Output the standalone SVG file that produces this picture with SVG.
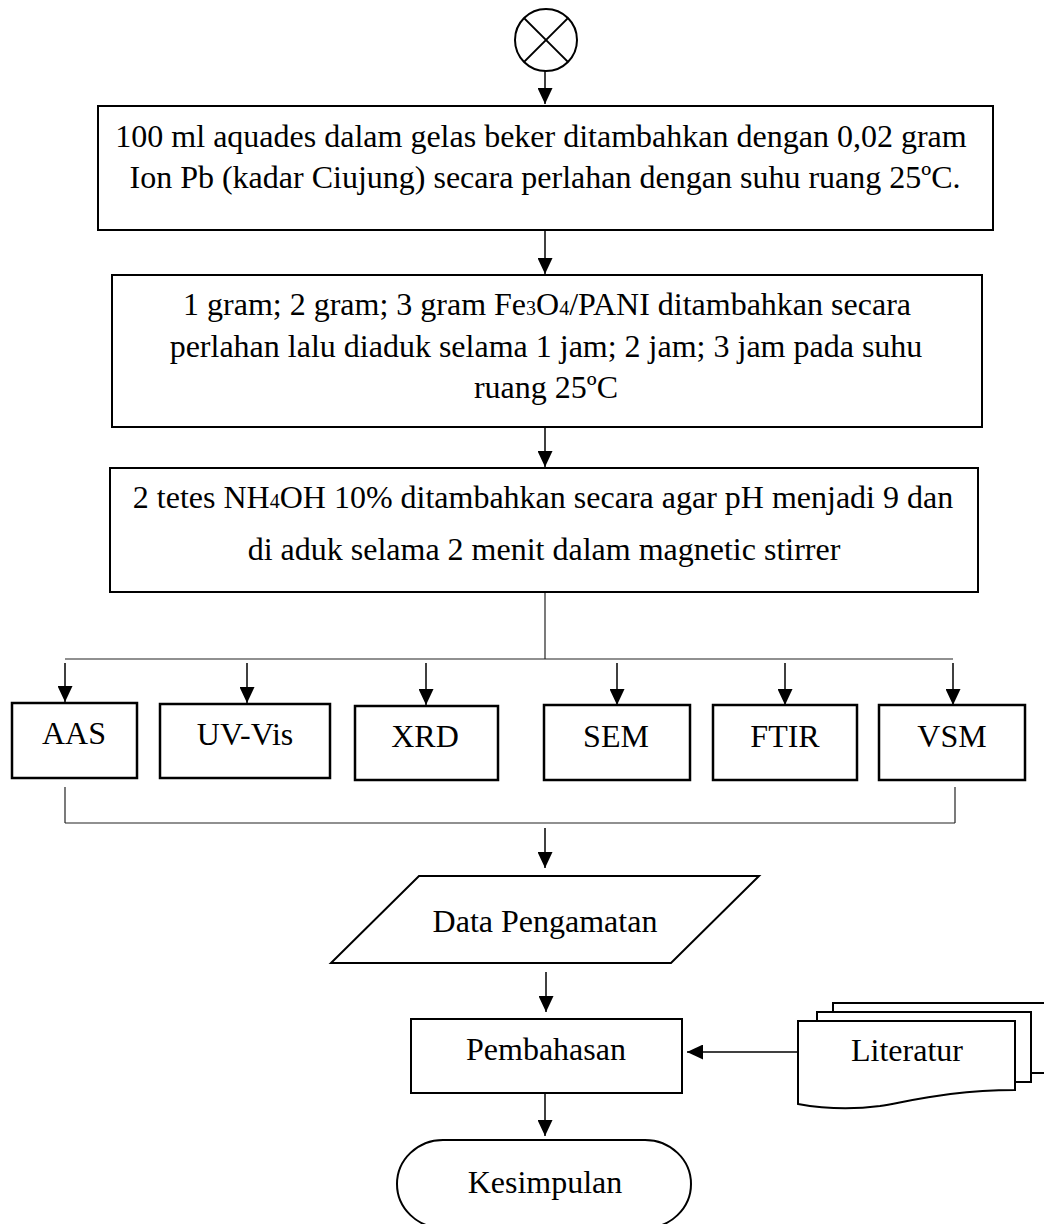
<svg xmlns="http://www.w3.org/2000/svg" width="1044" height="1224" viewBox="0 0 1044 1224">
<style>
  .box { fill: #fff; stroke: #000; stroke-width: 2; }
  .abox { fill: #fff; stroke: #000; stroke-width: 2.5; }
  .t { font-family: "Liberation Serif", "Times New Roman", serif; font-size: 32px; fill: #000; text-anchor: middle; }
  .sub { font-size: 20px; }
  .arrow { stroke: #000; stroke-width: 1.5; fill: none; marker-end: url(#ah); }
  .thin { stroke: #222; stroke-width: 1.2; fill: none; }
</style>
<defs>
  <marker id="ah" viewBox="0 0 16 15" refX="16" refY="7.5" markerWidth="16" markerHeight="15" markerUnits="userSpaceOnUse" orient="auto">
    <path d="M0,0 L16,7.5 L0,15 Z" fill="#000"/>
  </marker>
</defs>
<rect width="1044" height="1224" fill="#fff"/>

<g id="connectors">
  <line class="arrow" x1="545" y1="71" x2="545" y2="104"/>
  <line class="arrow" x1="545" y1="231" x2="545" y2="274"/>
  <line class="arrow" x1="545" y1="428" x2="545" y2="467"/>
  <line class="thin" x1="545" y1="592" x2="545" y2="659"/>
  <line class="thin" x1="65" y1="659" x2="953" y2="659"/>
  <line class="arrow" x1="65" y1="663" x2="65" y2="702"/>
  <line class="arrow" x1="247" y1="663" x2="247" y2="703"/>
  <line class="arrow" x1="426" y1="663" x2="426" y2="705"/>
  <line class="arrow" x1="617" y1="663" x2="617" y2="705"/>
  <line class="arrow" x1="785" y1="663" x2="785" y2="705"/>
  <line class="arrow" x1="953" y1="663" x2="953" y2="705"/>
  <line class="thin" x1="65" y1="787" x2="65" y2="823"/>
  <line class="thin" x1="955" y1="787" x2="955" y2="823"/>
  <line class="thin" x1="65" y1="823" x2="955" y2="823"/>
  <line class="arrow" x1="545" y1="828" x2="545" y2="868"/>
  <line class="arrow" x1="546" y1="972" x2="546" y2="1012"/>
  <line class="arrow" x1="545" y1="1094" x2="545" y2="1136"/>
  <line class="arrow" x1="797" y1="1052" x2="687" y2="1052"/>
</g>

<g id="start">
  <circle cx="546" cy="40" r="31" fill="#fff" stroke="#000" stroke-width="2"/>
  <line x1="524.1" y1="18.1" x2="567.9" y2="61.9" stroke="#000" stroke-width="2"/>
  <line x1="567.9" y1="18.1" x2="524.1" y2="61.9" stroke="#000" stroke-width="2"/>
</g>

<g id="step1">
  <rect class="box" x="98" y="106" width="895" height="124"/>
  <text class="t" x="541" y="147">100 ml aquades dalam gelas beker ditambahkan dengan 0,02 gram</text>
  <text class="t" x="545" y="188">Ion Pb (kadar Ciujung) secara perlahan dengan suhu ruang 25ºC.</text>
</g>

<g id="step2">
  <rect class="box" x="112" y="275" width="870" height="152"/>
  <text class="t" x="547" y="315">1 gram; 2 gram; 3 gram Fe<tspan class="sub">3</tspan>O<tspan class="sub">4</tspan>/PANI ditambahkan secara</text>
  <text class="t" x="546" y="357">perlahan lalu diaduk selama 1 jam; 2 jam; 3 jam pada suhu</text>
  <text class="t" x="546" y="398">ruang 25ºC</text>
</g>

<g id="step3">
  <rect class="box" x="110" y="468" width="868" height="124"/>
  <text class="t" x="543" y="508">2 tetes NH<tspan class="sub">4</tspan>OH 10% ditambahkan secara agar pH menjadi 9 dan</text>
  <text class="t" x="544" y="560">di aduk selama 2 menit dalam magnetic stirrer</text>
</g>

<g id="aas">
  <rect class="abox" x="12" y="703" width="125" height="75"/>
  <text class="t" x="74" y="744">AAS</text>
</g>
<g id="uvvis">
  <rect class="abox" x="160" y="704" width="170" height="74"/>
  <text class="t" x="245" y="745">UV-Vis</text>
</g>
<g id="xrd">
  <rect class="abox" x="355" y="706" width="143" height="74"/>
  <text class="t" x="425" y="747">XRD</text>
</g>
<g id="sem">
  <rect class="abox" x="544" y="705" width="146" height="75"/>
  <text class="t" x="616" y="747">SEM</text>
</g>
<g id="ftir">
  <rect class="abox" x="713" y="705" width="144" height="75"/>
  <text class="t" x="785" y="747">FTIR</text>
</g>
<g id="vsm">
  <rect class="abox" x="879" y="705" width="146" height="75"/>
  <text class="t" x="952" y="747">VSM</text>
</g>

<g id="data">
  <polygon points="419,876 759,876 671,963 331,963" fill="#fff" stroke="#000" stroke-width="2"/>
  <text class="t" x="545" y="932">Data Pengamatan</text>
</g>

<g id="pembahasan">
  <rect class="box" x="411" y="1019" width="271" height="74" stroke-width="2.5"/>
  <text class="t" x="546" y="1060">Pembahasan</text>
</g>

<g id="literatur">
  <rect x="833" y="1003" width="240" height="70" fill="#fff" stroke="#000" stroke-width="2"/>
  <rect x="817" y="1012" width="214" height="70" fill="#fff" stroke="#000" stroke-width="2"/>
  <path d="M798,1021 H1015 V1090 C955,1090 915,1100 880,1106 C850,1110 820,1108 798,1104 Z" fill="#fff" stroke="#000" stroke-width="2"/>
  <text class="t" x="907" y="1061">Literatur</text>
</g>

<g id="kesimpulan">
  <rect x="397" y="1140" width="294" height="88" rx="46" ry="44" fill="#fff" stroke="#000" stroke-width="2"/>
  <text class="t" x="545" y="1193">Kesimpulan</text>
</g>
</svg>
